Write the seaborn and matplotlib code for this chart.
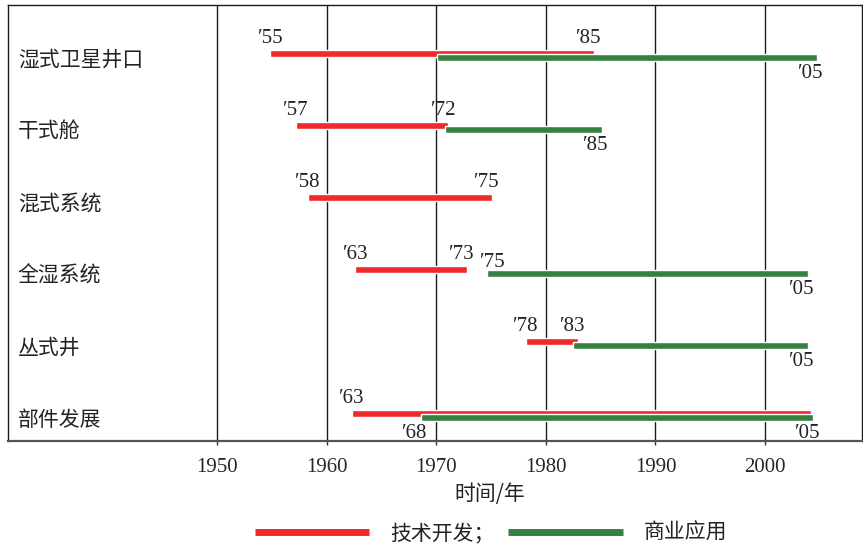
import numpy as np
import matplotlib
matplotlib.use('Agg')
import matplotlib.pyplot as plt
import seaborn as sns
from matplotlib.lines import Line2D

# Data
categories = ['湿式卫星井口', '干式舱', '混式系统', '全湿系统', '丛式井', '部件发展']
tech_start = [1954.85, 1957.2, 1958.3, 1962.6, 1978.2, 1962.3]
tech_end = [1984.4, 1971.1, 1975.1, 1972.8, 1982.9, 2004.2]
comm_start = [1970.1, 1970.8, np.nan, 1974.6, 1982.5, 1968.6]
comm_end = [2004.7, 1985.1, np.nan, 2003.9, 2003.9, 2004.4]
year_ticks = [1950, 1960, 1970, 1980, 1990, 2000]

# year labels: (row, series, which end, side, text)
year_labels = [
    (0, 'tech', 'start', 'above', '′55'), (0, 'tech', 'end', 'above', '′85'),
    (0, 'comm', 'end', 'below', '′05'),
    (1, 'tech', 'start', 'above', '′57'), (1, 'tech', 'end', 'above', '′72'),
    (1, 'comm', 'end', 'below', '′85'),
    (2, 'tech', 'start', 'above', '′58'), (2, 'tech', 'end', 'above', '′75'),
    (3, 'tech', 'start', 'above', '′63'), (3, 'tech', 'end', 'above', '′73'),
    (3, 'comm', 'start', 'above', '′75'), (3, 'comm', 'end', 'below', '′05'),
    (4, 'tech', 'start', 'above', '′78'), (4, 'tech', 'end', 'above', '′83'),
    (4, 'comm', 'end', 'below', '′05'),
    (5, 'tech', 'start', 'above', '′63'), (5, 'comm', 'start', 'below', '′68'),
    (5, 'comm', 'end', 'below', '′05'),
]

legend_labels = ['技术开发；', '商业应用']
RED = '#ee2a2a'
GREEN = '#368041'

sns.set_theme(style='white')
plt.rcParams['font.family'] = ['Noto Sans CJK SC', 'DejaVu Sans']
serif = ['Liberation Serif', 'DejaVu Serif']

fig = plt.figure(figsize=(8.63, 5.46), dpi=100)
ax = fig.add_axes([8 / 863, 1 - 441 / 546, 854 / 863, 436 / 546])

row_px = 72.0  # one row in pixels
bar_h = 7 / row_px
red_off = -7 / row_px
green_off = -2.5 / row_px

rows = np.arange(len(categories))
ax.barh(rows + red_off, np.array(tech_end) - np.array(tech_start),
        left=tech_start, height=bar_h, color=RED, zorder=3)
ax.barh(rows + green_off, np.array(comm_end) - np.array(comm_start),
        left=comm_start, height=bar_h, color=GREEN, zorder=4)

ax.set_xlim(1930.9, 2008.85)
ax.set_ylim(5.29, -0.764)

for x in year_ticks:
    ax.axvline(x, color='#1a1a1a', lw=1.0, zorder=1)

ax.set_xticks(year_ticks)
ax.set_xticklabels([str(y) for y in year_ticks], family=serif, fontsize=15)
ax.tick_params(axis='x', direction='out', length=3, width=1, color='#333333',
               pad=9, bottom=True)
ax.set_yticks([])
for s in ax.spines.values():
    s.set_color('#1a1a1a')
    s.set_linewidth(1.0)
ax.spines['bottom'].set_color('#555555')
ax.spines['bottom'].set_linewidth(1.6)

for i, name in enumerate(categories):
    ax.text(1931.8, i, name, fontsize=15, va='center', ha='left', color='#222222')

# year annotations next to the bar ends
for row, series, end, side, txt in year_labels:
    if series == 'tech':
        xv = tech_start[row] if end == 'start' else tech_end[row]
        yv = row + red_off
    else:
        xv = comm_start[row] if end == 'start' else comm_end[row]
        yv = row + green_off
    if side == 'below':
        dy = 15.5
    else:
        dy = -15 if series == 'tech' else -11
    if side == 'below':
        dx = -6
    elif end == 'end':
        dx = -5
    elif series == 'comm':
        dx = 6
    else:
        dx = 0
    ax.annotate(txt, (xv, yv), xytext=(dx, -dy), textcoords='offset pixels',
                ha='center', va='center', family=serif, fontsize=15,
                color='#222222', zorder=5)

fig.text(490 / 863, 1 - 494 / 546, '时间/年', ha='center', va='center',
         fontsize=15, color='#222222')

handles = [Line2D([0], [0], color=RED, lw=5, solid_capstyle='butt'),
           Line2D([0], [0], color=GREEN, lw=5, solid_capstyle='butt')]
fig.legend(handles, legend_labels, loc='center', ncol=2,
           bbox_to_anchor=(491 / 863, 1 - 533 / 546), frameon=False,
           fontsize=15, handlelength=5.5, handletextpad=1.0, columnspacing=0.65,
           labelcolor='#222222')

fig.savefig('out.png', dpi=100)
